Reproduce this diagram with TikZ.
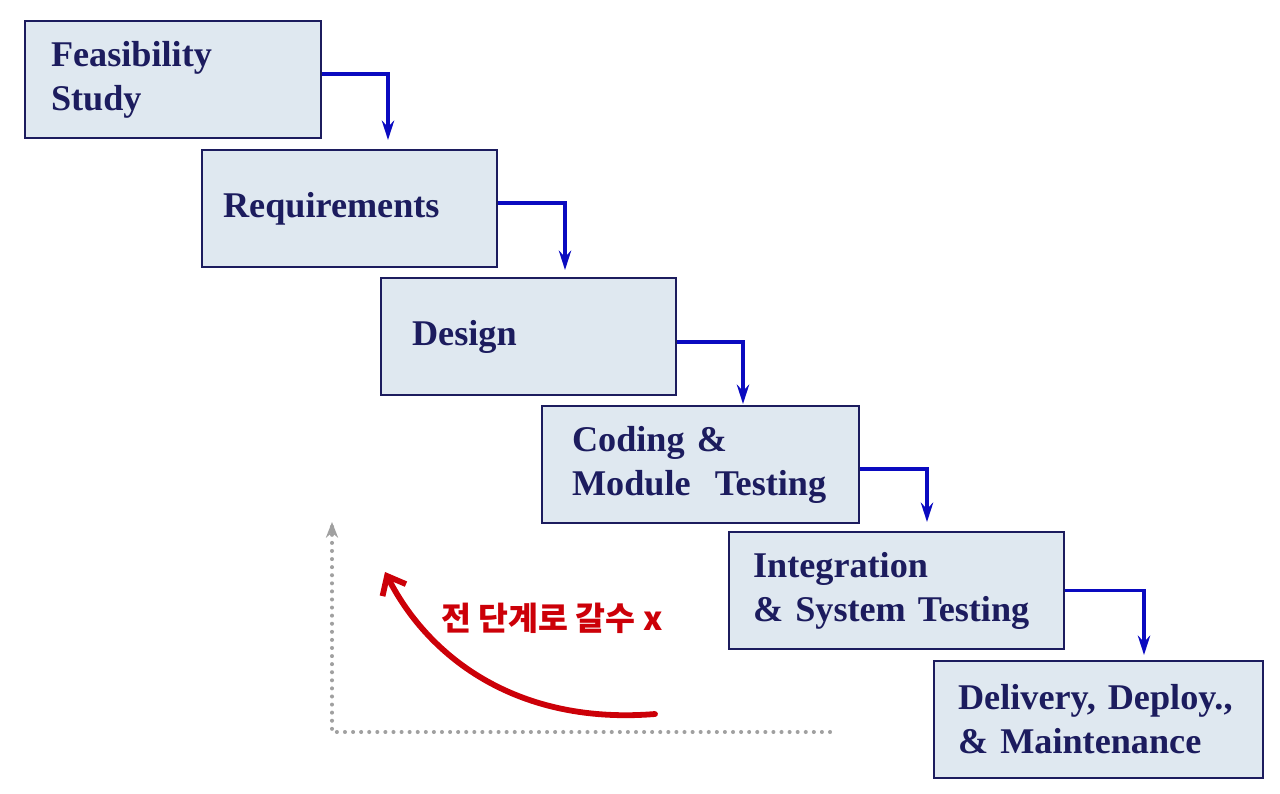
\documentclass[tikz,border=0pt]{standalone}
\usepackage{fontspec}
\usepackage{xcolor}
\usepackage{tikz}
\usetikzlibrary{arrows.meta}

\setmainfont{Liberation Serif}
\newfontfamily\korfont{Noto Sans CJK KR}

\definecolor{navy}{HTML}{1C1C5E}
\definecolor{boxfill}{HTML}{DFE8F0}
\definecolor{flowblue}{HTML}{0A0AC0}
\definecolor{penred}{HTML}{CC0008}
\definecolor{dotgray}{HTML}{A0A0A0}

\tikzset{
    stage/.style={draw=navy, fill=boxfill, line width=1.2pt, anchor=north west,
        minimum height=2.34cm, align=left, text=navy,
        font=\fontsize{20.6}{25}\selectfont\bfseries},
    flow/.style={->, >={Stealth[length=11pt, width=7pt]}, flowblue, line width=2.2pt}
}

\begin{document}
\begin{tikzpicture}
    \useasboundingbox (0, 0) rectangle (25.6, -15.88);

    \node[stage, text width=4.88cm, inner xsep=0.52cm] at (0.48, -0.40) (feas) {Feasibility\\Study};
    \node[stage, text width=5.06cm, inner xsep=0.42cm] at (4.02, -2.98) (req) {Requirements};
    \node[stage, text width=4.66cm, inner xsep=0.62cm] at (7.60, -5.54) (design) {Design};
    \node[stage, text width=5.14cm, inner xsep=0.60cm] at (10.82, -8.10) (coding) {Coding \&\\Module\ \ Testing};
    \node[stage, text width=5.74cm, inner xsep=0.48cm] at (14.56, -10.62) (integ) {Integration\\\& System Testing};
    \node[stage, text width=5.62cm, inner xsep=0.48cm] at (18.66, -13.20) (deliv) {Delivery, Deploy.,\\\& Maintenance};

    % phase flow
    \draw[flow] ([yshift=0.11cm]feas.east) -| ([xshift=3.74cm, yshift=0.18cm]req.north west);
    \draw[flow] ([yshift=0.11cm]req.east) -| ([xshift=3.70cm, yshift=0.14cm]design.north west);
    \draw[flow] ([yshift=-0.11cm]design.east) -| ([xshift=4.04cm, yshift=0.02cm]coding.north west);
    \draw[flow] ([yshift=-0.09cm]coding.east) -| ([xshift=3.98cm, yshift=0.18cm]integ.north west);
    \draw[flow] (integ.east) -| ([xshift=4.22cm, yshift=0.10cm]deliv.north west);

    % no going back
    \coordinate (gstart) at (16.6, -14.64);
    \coordinate (gcorner) at (6.64, -14.64);
    \coordinate (gend) at (6.64, -10.44);
    \draw[dotgray, line width=2.3pt, dash pattern=on 0pt off 4.6pt, line cap=round]
        (gstart) -- (gcorner) -- (gend);
    \draw[dotgray, -{Stealth[length=9pt, width=7pt]}, line width=1pt] ([yshift=-0.1cm]gend) -- (gend);

    \coordinate (rstart) at (13.1, -14.28);
    \coordinate (rend) at (7.70, -11.44);
    \draw[penred, line width=3.3pt, line cap=round, -{Straight Barb[length=9pt, width=15pt]}]
        (rstart) .. controls (10.4, -14.5) and (8.6, -13.2) .. (rend);
    \node[text=penred, font=\korfont\bfseries\fontsize{18.5}{20}\selectfont] at (11.04, -12.36) (back) {전 단계로 갈수 x};
\end{tikzpicture}
\end{document}
